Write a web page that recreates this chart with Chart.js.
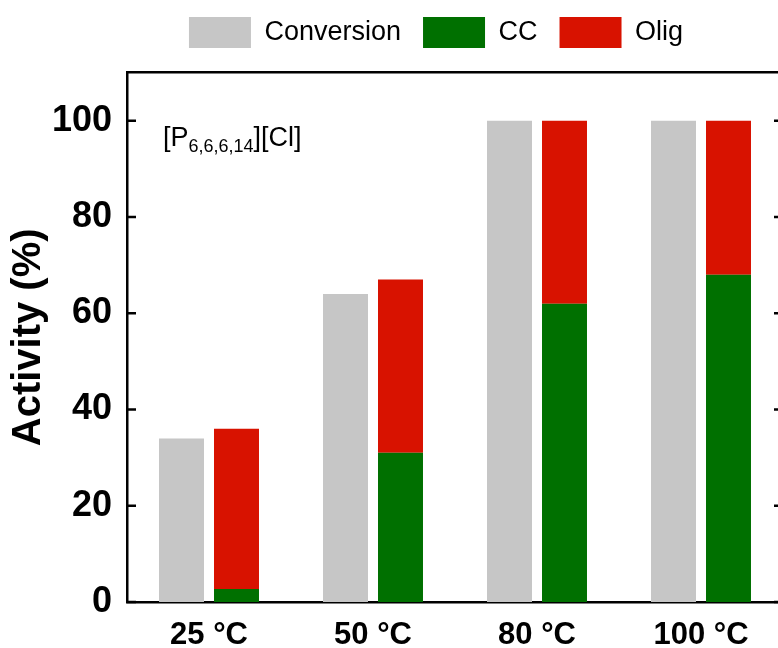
<!DOCTYPE html>
<html>
<head>
<meta charset="utf-8">
<script src="https://cdn.jsdelivr.net/npm/chart.js@4.4.1/dist/chart.umd.min.js"></script>
<style>
  html, body { margin: 0; padding: 0; background: #fff; overflow: hidden; }
  #wrap { width: 872px; height: 648px; }
</style>
</head>
<body>
<div id="wrap"><canvas id="grafico" width="872" height="648"></canvas></div>
<script>
// Actividad por temperatura
const temperaturas = ["25 °C", "50 °C", "80 °C", "100 °C"];
const conversion = [34, 64, 100, 100];
const cc = [2.7, 31, 62, 68];
const olig = [33.3, 36, 38, 32];
const ticksY = [0, 20, 40, 60, 80, 100];

const fuente = "'Liberation Sans', Arial, sans-serif";

// marcas hacia dentro en ambos ejes verticales + rótulo del líquido iónico
const marcasInternas = {
  id: "marcasInternas",
  afterDraw(chart) {
    const { ctx, chartArea, scales: { y } } = chart;
    ctx.save();
    ctx.strokeStyle = "#000";
    ctx.lineWidth = 2.5;
    ticksY.forEach(v => {
      const py = y.getPixelForValue(v);
      ctx.beginPath();
      ctx.moveTo(chartArea.left, py);
      ctx.lineTo(chartArea.left + 9, py);
      ctx.moveTo(chartArea.right, py);
      ctx.lineTo(chartArea.right - 9, py);
      ctx.stroke();
    });

    ctx.fillStyle = "#000";
    ctx.textBaseline = "alphabetic";
    let x = chartArea.left + 36;
    const base = chartArea.top + 73;
    const partes = [
      ["[P", 27, 0],
      ["6,6,6,14", 18, 6],
      ["][Cl]", 27, 0]
    ];
    partes.forEach(([txt, size, dy]) => {
      ctx.font = `${size}px ${fuente}`;
      ctx.fillText(txt, x, base + dy);
      x += ctx.measureText(txt).width;
    });
    ctx.restore();
  }
};

const ctx = document.getElementById("grafico").getContext("2d");

new Chart(ctx, {
  type: "bar",
  data: {
    labels: temperaturas,
    datasets: [
      { label: "Conversion", data: conversion, backgroundColor: "#c6c6c6", stack: "conv" },
      { label: "CC", data: cc, backgroundColor: "#007000", stack: "sel" },
      { label: "Olig", data: olig, backgroundColor: "#d81200", stack: "sel" }
    ]
  },
  options: {
    responsive: false,
    animation: false,
    devicePixelRatio: 1,
    categoryPercentage: 0.6707,
    barPercentage: 0.818,
    layout: { padding: { top: -5, left: 0, right: 0, bottom: 0 } },
    plugins: {
      legend: {
        position: "top",
        labels: {
          boxWidth: 62,
          boxHeight: 31,
          padding: 22,
          color: "#000",
          font: { family: fuente, size: 27 }
        }
      },
      tooltip: { enabled: false }
    },
    scales: {
      x: {
        stacked: true,
        grid: { display: false, drawTicks: false },
        border: { display: true, color: "#000", width: 2.5 },
        ticks: {
          color: "#000",
          padding: 15,
          font: { family: fuente, size: 31, weight: "bold" }
        },
        afterFit: s => { s.height = 46; }
      },
      arriba: {
        type: "category",
        position: "top",
        grid: { display: false, drawTicks: false },
        border: { display: true, color: "#000", width: 2.5 },
        ticks: { display: false },
        afterFit: s => { s.height = 14.7; }
      },
      y: {
        stacked: true,
        min: 0,
        max: 110,
        grid: { display: false, drawTicks: false },
        border: { display: true, color: "#000", width: 2.5 },
        ticks: {
          stepSize: 20,
          includeBounds: false,
          color: "#000",
          padding: 15,
          font: { family: fuente, size: 36, weight: "bold" }
        },
        title: {
          display: true,
          text: "Activity (%)",
          color: "#000",
          padding: { top: 5, bottom: 0 },
          font: { family: fuente, size: 40, weight: "bold" }
        },
        afterFit: s => { s.width = 127; }
      },
      derecha: {
        type: "linear",
        position: "right",
        min: 0,
        max: 110,
        grid: { display: false, drawTicks: false },
        border: { display: true, color: "#000", width: 2.5 },
        ticks: { display: false },
        afterFit: s => { s.width = 89; }
      }
    }
  },
  plugins: [marcasInternas]
});
</script>
</body>
</html>
